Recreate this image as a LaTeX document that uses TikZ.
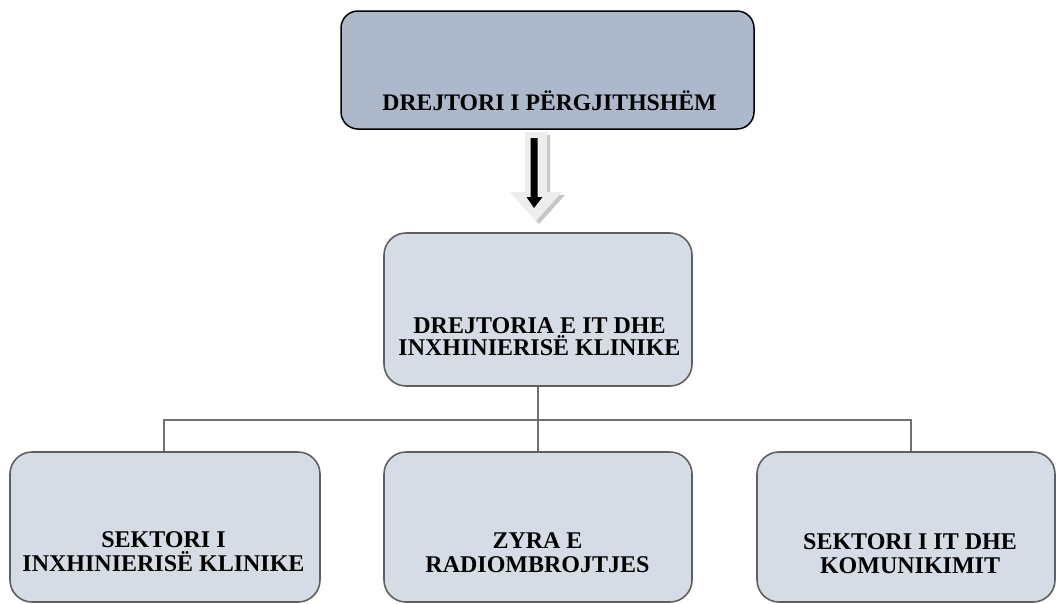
\documentclass[tikz,border=0pt]{standalone}
\usepackage{fontspec}
\setmainfont{Liberation Serif}
% fixed baseline distance between label lines, accents allowed to come close
\newcommand\labelLines[2]{\bfseries\fontsize{#1}{#2}\selectfont\lineskiplimit=-100pt\relax}
\begin{document}
\begin{tikzpicture}[x=1pt,y=-1pt,
  topbox/.style={draw=black, line width=1.5pt, fill=topfill, rounded corners=17pt,
    minimum width=413pt, minimum height=118pt, inner sep=0pt},
  unitbox/.style={draw=boxline, line width=1.6pt, fill=unitfill, rounded corners=22pt,
    inner sep=0pt},
  lbl/.style={anchor=base, align=center, inner sep=0pt, font=\labelLines{24}{24}},
  conn/.style={draw=connline, line width=1.8pt}]
\definecolor{topfill}{HTML}{ADB9CA}
\definecolor{unitfill}{HTML}{D6DCE5}
\definecolor{boxline}{HTML}{5F5F5F}
\definecolor{connline}{HTML}{707070}
\useasboundingbox (0,0) rectangle (1056,603);

% boxes
\node[topbox] (gen) at (547.5,70) {};
\node[unitbox, minimum width=308pt, minimum height=153pt] (dir) at (538,309.5) {};
\node[unitbox, minimum width=310pt, minimum height=150pt] (sekI) at (165,527) {};
\node[unitbox, minimum width=308pt, minimum height=150pt] (zyra) at (538,527) {};
\node[unitbox, minimum width=298pt, minimum height=150pt] (sekIT) at (906,527) {};

% labels (base anchor = baseline of the last line)
\node[lbl, font=\labelLines{23.7}{24}] (genT) at (549.5,110) {DREJTORI I PËRGJITHSHËM};
\node[lbl, font=\labelLines{24}{22}] (dirT) at (539.5,355) {DREJTORIA E IT DHE\\INXHINIERISË KLINIKE};
\node[lbl] (sekIT1) at (163.5,571) {SEKTORI I\\INXHINIERISË KLINIKE};
\node[lbl] (zyraT) at (537.5,572) {ZYRA E\\RADIOMBROJTJES};
\node[lbl, font=\labelLines{24}{23.5}] (sekITT) at (910,573) {SEKTORI I IT DHE\\KOMUNIKIMIT};

% block arrow from the director down to the directorate
\fill[gray!45] (528,135) -- (550,135) -- (550,195) -- (565,195) -- (539,224) -- (513,195) -- (528,195) -- cycle;
\fill[white!93!black] (525,132) -- (547,132) -- (547,192) -- (562,192) -- (536,221) -- (510,192) -- (525,192) -- cycle;
\fill[black] (530.5,138) -- (537.5,138) -- (537.5,197) -- (542.5,197) -- (534,208) -- (526.5,197) -- (530.5,197) -- cycle;

% tree connectors
\coordinate (bus) at (538,420);
\draw[conn] (dir.south) -- (bus);
\draw[conn] ([xshift=-1pt]sekI.north) |- (bus) -| ([xshift=5pt]sekIT.north);
\draw[conn] (bus) -- (zyra.north);
\end{tikzpicture}
\end{document}
